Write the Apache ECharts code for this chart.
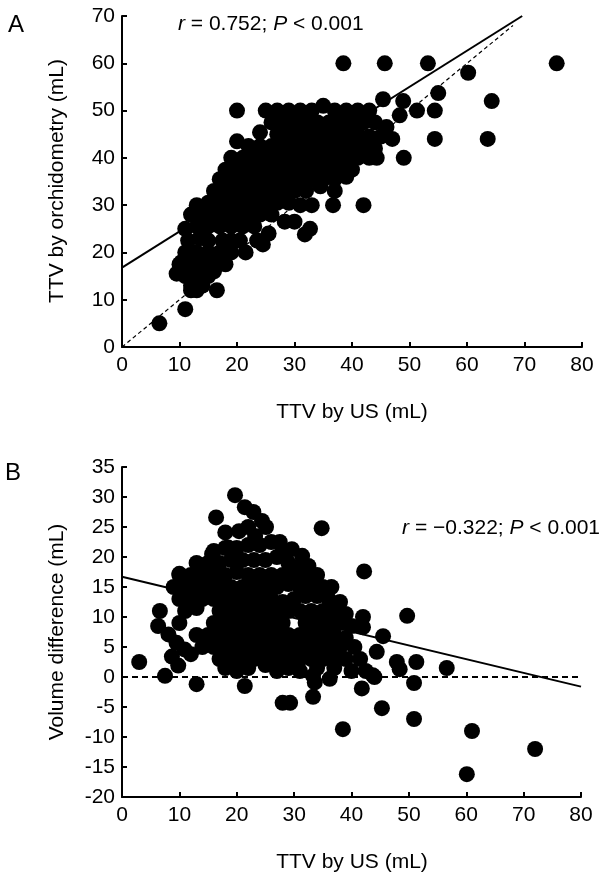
<!DOCTYPE html>
<html>
<head>
<meta charset="utf-8">
<script src="https://cdn.jsdelivr.net/npm/echarts@6/dist/echarts.min.js"></script>
<style>
html,body{margin:0;padding:0;background:#fff;}
#chart{width:603px;height:875px;}
</style>
</head>
<body>
<div id="chart"></div>
<script>
// Panel A: [TTV by US (mL), TTV by orchidometry (mL)]
const pointsA = [
 [20,50],[25,50],[27,50],[29,50],[31,50],[33,50],[35,51],[37,50],[39,50],[41,50],[43,50],
 [45.4,52.4],[48.9,52],[48.3,49],[51.3,50],[54.4,50],[55,53.7],[64.3,52],
 [38.5,60],[45.7,60],[53.2,60],[60.2,58],[75.6,60],
 [26,47.5],[28,47.5],[30,47.5],[32,47.5],[34,47.5],[36,47.5],[38,47.5],[40,47.5],[42,47.5],[44,47.5],[46,46.5],
 [24,45.4],[27,45],[29,45],[31,45],[33,45],[35,45],[37,45],[39,45],[41,45],[43,44.5],[45,44.5],[47,44],[54.4,44],[63.6,44],
 [20,43.5],[22,42.5],[24,42.5],[26,42.5],[28,42.5],[30,42.5],[32,42.5],[34,42.5],[36,42.5],[38,42.5],[40,42.5],[42,42.5],[44,42],
 [19,40],[21,40],[23,40],[25,40],[27,40],[29,40],[31,40],[33,40],[35,40],[37,40],[39,40],[41,40],[43,40],[44.3,40],[49,40],
 [18,37.5],[20,37.5],[22,37.5],[24,37.5],[26,37.5],[28,37.5],[30,37.5],[32,37.5],[34,37.5],[36,37.5],[38,37.5],[40,37.5],
 [17,35.5],[19,35.5],[21,35.5],[23,35.5],[25,35.5],[27,35.5],[29,35.5],[31,35.5],[33,35.5],[35,35.5],[37,35.5],[39,36],
 [16,33],[18,33],[20,33],[22,33],[24,33],[26,33],[28,33],[30,33],[32,33],[34.5,34],[37,33],
 [13,30],[15,30.5],[17,30.5],[19,30.5],[21,30.5],[23,30.5],[25,30.5],[27,30.5],[29,30.5],[31,30],[33,30],[36.7,30],[42,30],
 [12,28],[14,28],[16,28],[18,28],[20,28],[22,28],[24,28],[26,28],[28.3,26.5],[30,26.5],
 [11,25],[13,25.5],[15,25.5],[17,25.5],[19,25.5],[21,25.5],[23,25.5],[25.5,24],[31.8,23.8],[32.7,25],
 [11.5,22.5],[13.5,23],[15,22.5],[17.5,22.5],[19,22.5],[20.5,22.5],[23.5,22.5],[24.5,21.7],
 [10.4,18],[11,20],[13,20],[15,20],[17,20],[19,20],[21.5,20],
 [10,17.5],[12,17.5],[14,17.5],[16,17.5],[18,17.5],
 [9.5,15.5],[11,15],[13,15],[15,15],[16,16],
 [12,13],[14,13],[12,12],[13,12],[16.5,12],
 [11,8],[6.5,5]
];
// Panel A lines
const regLineA = [[0,16.8],[69.6,70]];
const identityA = [[0,0],[68,68]];

// Panel B: [TTV by US (mL), Volume difference (mL)]
const pointsB = [
 [3,2.5],[7.5,0.2],[13,-1.2],[6.6,11],[6.3,8.5],[8.1,7.1],[9.5,5.7],[10.9,4.6],[12,3.8],[8.7,3.4],[9.8,1.9],[10,17.2],[13.6,16.3],
 [21.4,-1.5],[28,-4.3],[29.3,-4.3],[33.3,-3.3],[33.6,-0.9],[36.2,-0.3],[41.8,-1.9],[44,0],[42.5,1],
 [45.3,-5.2],[50.9,-7],[38.5,-8.7],[61,-9],[60.1,-16.2],[72,-12],[50.9,-1],
 [42.2,17.6],[49.7,10.2],[42,10],[42,8.3],[45.5,6.8],[44.4,4.2],[47.9,2.5],[48.4,1.3],[51.3,2.5],[56.6,1.5],[34.8,24.8],
 [19.7,30.3],[21.4,28.3],[22.9,27.5],[24.4,26],[25.1,25],[16.4,26.6],[18,24.1],[20.4,24.3],[23.2,23.5],[22,25],
 [18.5,21.6],[15.7,20.5],[27.5,22.5],[29.6,21.3],[31.4,20.2],
 [16,21],[18,21.5],[20,21.5],[22,22],[24,22],[26,22.5],[28,21],
 [13,19],[15,19],[17,19],[19,19.5],[21,19.5],[23,19.5],[25,19.5],[27,20],[29,19],[31,18.5],[32.5,18.5],
 [10,17],[12,17],[14,17],[16,17],[18,17],[20,17.5],[22,17],[24,17],[26,17],[28,17],[30,17],[32,16.5],[34,17],
 [9,15],[11,15],[13,15],[15,15],[17,15],[19,15],[21,15],[23,15],[25,15],[27,15],[29,15.5],[31,15],[33,15],[35,15],[36.5,15],
 [10,13],[12,13],[14,13],[16,13],[18,13],[20,13],[22,13],[24,13],[26,13],[28,12.5],[30,13],[32,13.5],[34,13.5],[36,13],[38,12.5],
 [11,11],[13,11.5],[17,11],[19,11],[21,11],[23,11],[25,11],[27,11],[29,11],[31,11],[33,11],[35,11],[37,11],[39,10.5],
 [10,9],[16,9],[18,9],[20,9],[22,9],[24,9],[26,9],[28,9],[32,9],[34,9],[36,9],[38,9],[40,8.5],
 [13,7],[15,7],[17,7],[19,7],[21,7],[23,7],[25,7],[27,7],[29,7],[31,7],[33,7],[35,7],[37,7],[39,6.5],
 [14,5],[16,5],[18,5],[20,5],[22,5],[24,5],[26,5],[28,5],[30,5],[32,5],[34,5],[36,5],[38,5],[40.5,5],
 [17,3],[19,3],[21,3],[23,3],[25,3],[27,3],[29,3],[31,3],[33,3],[35,3],[37,3],[39,3],[41.5,3],
 [18,1.5],[20,1],[22,1.5],[25,2],[27,1],[29,1.5],[31,1],[34,1.5],[37,1.5],[40,1],[43.7,0.3],[33.3,0.2]
];
// Panel B lines
const regLineB = [[0,16.7],[80,-1.6]];
const zeroLineB = [[0,0],[80,0]];

// Axis ranges / texts
const xRange = {min:0, max:80, interval:10};
const yRangeA = {min:0, max:70, interval:10};
const yRangeB = {min:-20, max:35, interval:5};
const labels = {
  panelA:'A', panelB:'B',
  xTitle:'TTV by US (mL)',
  yTitleA:'TTV by orchidometry (mL)',
  yTitleB:'Volume difference (mL)',
  statA:'{i|r} = 0.752; {i|P} < 0.001',
  statB:'{i|r} = \u22120.322; {i|P} < 0.001'
};

const FONT = 'Liberation Sans, Arial, Helvetica, sans-serif';
const chart = echarts.init(document.getElementById('chart'), null, {renderer:'canvas'});

function axisCommon(extra){
  return Object.assign({
    type:'value',
    axisLine:{show:true, onZero:false, lineStyle:{color:'#000', width:2}},
    axisTick:{show:true, inside:true, length:5, lineStyle:{color:'#000', width:2}},
    splitLine:{show:false},
    axisLabel:{color:'#000', fontSize:21, fontFamily:FONT, margin:8, showMinLabel:true, showMaxLabel:true}
  }, extra);
}

const dotStyle = {color:'#000', opacity:1};
const richI = {i:{fontStyle:'italic', fontSize:21, fontFamily:FONT, fill:'#000'}};
const DOT = 16;

chart.setOption({
  animation:false,
  backgroundColor:'#fff',
  grid:[
    {left:122, top:16, width:460, height:331},
    {left:122, top:467, width:459, height:330}
  ],
  xAxis:[
    axisCommon({gridIndex:0, min:xRange.min, max:xRange.max, interval:xRange.interval}),
    axisCommon({gridIndex:1, min:xRange.min, max:xRange.max, interval:xRange.interval})
  ],
  yAxis:[
    axisCommon({gridIndex:0, min:yRangeA.min, max:yRangeA.max, interval:yRangeA.interval, axisLabel:{color:'#000', fontSize:21, fontFamily:FONT, margin:7}}),
    axisCommon({gridIndex:1, min:yRangeB.min, max:yRangeB.max, interval:yRangeB.interval, axisLabel:{color:'#000', fontSize:21, fontFamily:FONT, margin:7}})
  ],
  series:[
    {type:'scatter', xAxisIndex:0, yAxisIndex:0, data:pointsA, symbol:'circle', symbolSize:DOT, itemStyle:dotStyle, silent:true},
    {type:'line', xAxisIndex:0, yAxisIndex:0, data:identityA, symbol:'none', lineStyle:{color:'#000', width:1.2, type:[4,3]}, silent:true},
    {type:'line', xAxisIndex:0, yAxisIndex:0, data:regLineA, symbol:'none', lineStyle:{color:'#000', width:2}, silent:true},
    {type:'scatter', xAxisIndex:1, yAxisIndex:1, data:pointsB, symbol:'circle', symbolSize:DOT, itemStyle:dotStyle, silent:true},
    {type:'line', xAxisIndex:1, yAxisIndex:1, data:zeroLineB, symbol:'none', lineStyle:{color:'#000', width:2, type:[6,4]}, silent:true},
    {type:'line', xAxisIndex:1, yAxisIndex:1, data:regLineB, symbol:'none', lineStyle:{color:'#000', width:2}, silent:true}
  ],
  graphic:[
    {type:'text', x:8, y:25, style:{text:labels.panelA, fontSize:24, fontFamily:FONT, fill:'#000', align:'left', verticalAlign:'middle'}},
    {type:'text', x:5, y:473, style:{text:labels.panelB, fontSize:24, fontFamily:FONT, fill:'#000', align:'left', verticalAlign:'middle'}},
    {type:'text', x:178, y:24, style:{text:labels.statA, rich:richI, fontSize:21, fontFamily:FONT, fill:'#000', align:'left', verticalAlign:'middle'}},
    {type:'text', x:600, y:528, style:{text:labels.statB, rich:richI, fontSize:21, fontFamily:FONT, fill:'#000', align:'right', verticalAlign:'middle'}},
    {type:'text', x:352, y:412, style:{text:labels.xTitle, fontSize:21, fontFamily:FONT, fill:'#000', align:'center', verticalAlign:'middle'}},
    {type:'text', x:352, y:862, style:{text:labels.xTitle, fontSize:21, fontFamily:FONT, fill:'#000', align:'center', verticalAlign:'middle'}},
    {type:'text', x:57, y:181, rotation:Math.PI/2, style:{text:labels.yTitleA, fontSize:21, fontFamily:FONT, fill:'#000', align:'center', verticalAlign:'middle'}},
    {type:'text', x:57, y:632, rotation:Math.PI/2, style:{text:labels.yTitleB, fontSize:21, fontFamily:FONT, fill:'#000', align:'center', verticalAlign:'middle'}}
  ]
});
</script>
</body>
</html>
